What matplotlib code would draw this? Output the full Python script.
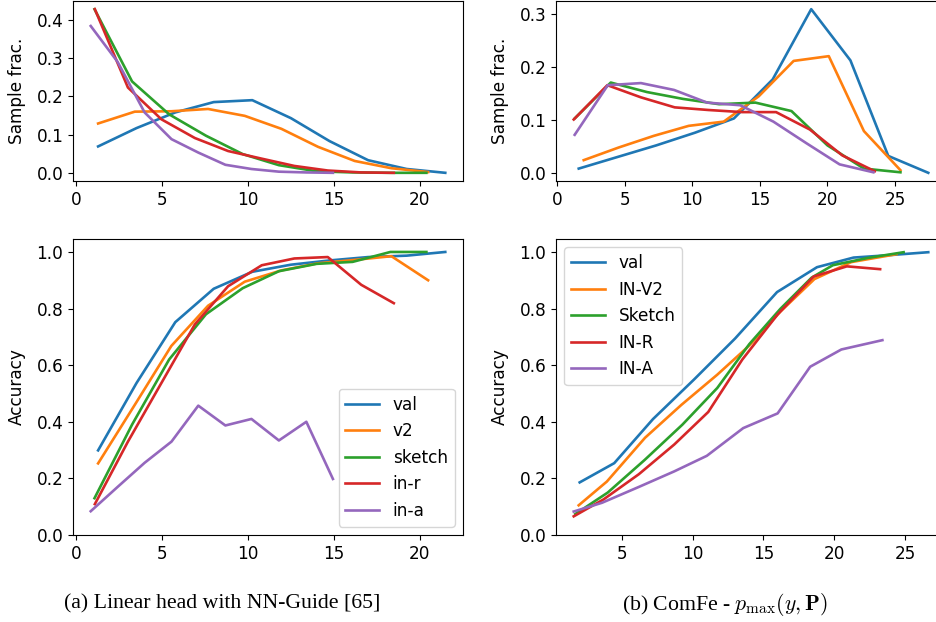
import matplotlib
matplotlib.use("Agg")
import matplotlib.pyplot as plt

# ---------------- data ----------------
# (a) Linear head with NN-Guide
a_val_x = [1.26, 3.5, 5.76, 8.0, 10.25, 12.5, 14.75, 17.0, 19.25, 21.5]
a_val_frac = [0.069, 0.117, 0.158, 0.185, 0.19, 0.143, 0.083, 0.033, 0.01, 0.0]
a_val_acc = [0.299, 0.537, 0.752, 0.870, 0.93, 0.955, 0.97, 0.982, 0.987, 1.0]

a_v2_x = [1.26, 3.4, 5.53, 7.67, 9.81, 11.95, 14.08, 16.22, 18.36, 20.5]
a_v2_frac = [0.129, 0.160, 0.161, 0.167, 0.149, 0.115, 0.068, 0.031, 0.012, 0.002]
a_v2_acc = [0.253, 0.46, 0.668, 0.81, 0.895, 0.935, 0.96, 0.972, 0.985, 0.9]

a_sketch_x = [1.05, 3.24, 5.4, 7.55, 9.69, 11.8, 14.0, 16.1, 18.3, 20.4]
a_sketch_frac = [0.428, 0.239, 0.153, 0.097, 0.049, 0.02, 0.004, 0.001, 0.0, 0.0]
a_sketch_acc = [0.13, 0.39, 0.62, 0.78, 0.872, 0.932, 0.958, 0.965, 1.0, 1.0]

a_inr_x = [1.07, 3.0, 4.95, 6.9, 8.84, 10.8, 12.7, 14.65, 16.6, 18.5]
a_inr_frac = [0.428, 0.223, 0.140, 0.091, 0.057, 0.037, 0.018, 0.006, 0.001, 0.0]
a_inr_acc = [0.109, 0.33, 0.537, 0.744, 0.879, 0.953, 0.977, 0.982, 0.884, 0.819]

a_ina_x = [0.83, 2.4, 3.97, 5.54, 7.1, 8.68, 10.2, 11.8, 13.4, 14.95]
a_ina_frac = [0.384, 0.29, 0.158, 0.088, 0.053, 0.021, 0.01, 0.003, 0.001, 0.0]
a_ina_acc = [0.084, 0.17, 0.255, 0.33, 0.457, 0.387, 0.41, 0.334, 0.40, 0.198]

# (b) ComFe - p_max(y, P)
b_val_fx = [1.6, 4.47, 7.34, 10.2, 13.08, 15.95, 18.8, 21.7, 24.5, 27.46]
b_val_frac = [0.008, 0.03, 0.052, 0.076, 0.103, 0.177, 0.31, 0.213, 0.032, 0.0]
b_v2_fx = [1.97, 4.56, 7.15, 9.74, 12.33, 14.92, 17.5, 20.1, 22.7, 25.4]
b_v2_frac = [0.024, 0.048, 0.07, 0.089, 0.097, 0.145, 0.212, 0.221, 0.079, 0.005]
b_sketch_fx = [1.3, 3.97, 6.65, 9.32, 11.99, 14.67, 17.34, 20.0, 22.7, 25.4]
b_sketch_frac = [0.103, 0.171, 0.153, 0.14, 0.13, 0.133, 0.117, 0.052, 0.008, 0.001]
b_inr_fx = [1.23, 3.72, 6.2, 8.7, 11.2, 13.7, 16.2, 18.7, 21.1, 23.5]
b_inr_frac = [0.101, 0.166, 0.143, 0.124, 0.119, 0.115, 0.115, 0.082, 0.033, 0.003]
b_ina_fx = [1.3, 3.75, 6.2, 8.65, 11.1, 13.55, 16.0, 18.45, 20.9, 23.4]
b_ina_frac = [0.072, 0.166, 0.17, 0.157, 0.133, 0.128, 0.097, 0.056, 0.016, 0.001]

b_val_ax = [2.02, 4.46, 7.2, 10.1, 13.0, 15.96, 18.78, 21.36, 24.0, 26.64]
b_val_acc = [0.186, 0.254, 0.41, 0.55, 0.695, 0.859, 0.947, 0.981, 0.99, 1.0]
b_v2_ax = [1.95, 3.94, 6.64, 9.2, 11.74, 14.0, 16.2, 18.6, 21.2, 24.4]
b_v2_acc = [0.105, 0.189, 0.344, 0.46, 0.567, 0.67, 0.79, 0.905, 0.965, 0.993]
b_sketch_ax = [1.71, 4.0, 6.6, 9.27, 11.74, 14.0, 16.2, 18.4, 19.9, 22.4, 24.9]
b_sketch_acc = [0.074, 0.15, 0.265, 0.39, 0.52, 0.675, 0.80, 0.91, 0.954, 0.98, 1.0]
b_inr_ax = [1.6, 3.71, 6.2, 8.7, 11.1, 13.5, 16.0, 18.54, 20.89, 23.24]
b_inr_acc = [0.066, 0.126, 0.215, 0.32, 0.435, 0.62, 0.78, 0.914, 0.95, 0.94]
b_ina_ax = [1.6, 3.6, 6.2, 8.7, 11.0, 13.57, 16.0, 18.3, 20.5, 23.4]
b_ina_acc = [0.083, 0.114, 0.17, 0.225, 0.28, 0.378, 0.43, 0.595, 0.656, 0.689]

a_labels = ["val", "v2", "sketch", "in-r", "in-a"]
b_labels = ["val", "IN-V2", "Sketch", "IN-R", "IN-A"]
captions = ["(a) Linear head with NN-Guide [65]", r"(b) ComFe - $p_{\max}(y,\mathbf{P})$"]

# ---------------- figure ----------------
W, H = 937, 622
fs = 12.2
plt.rcParams.update({"font.size": fs, "mathtext.fontset": "cm"})
fig = plt.figure(figsize=(W / 100, H / 100), dpi=100)

def axpos(l, t, r, b):
    return [l / W, 1 - b / H, (r - l) / W, (b - t) / H]

ax_tl = fig.add_axes(axpos(73, 1, 463, 181))
ax_tr = fig.add_axes(axpos(556, 1, 946, 181))
ax_bl = fig.add_axes(axpos(73, 239, 463, 535))
ax_br = fig.add_axes(axpos(556, 239, 946, 535))

colors = ["C0", "C1", "C2", "C3", "C4"]
lw = 1.9

a_frac = [(a_val_x, a_val_frac), (a_v2_x, a_v2_frac), (a_sketch_x, a_sketch_frac),
          (a_inr_x, a_inr_frac), (a_ina_x, a_ina_frac)]
a_acc = [(a_val_x, a_val_acc), (a_v2_x, a_v2_acc), (a_sketch_x, a_sketch_acc),
         (a_inr_x, a_inr_acc), (a_ina_x, a_ina_acc)]
b_frac = [(b_val_fx, b_val_frac), (b_v2_fx, b_v2_frac), (b_sketch_fx, b_sketch_frac),
          (b_inr_fx, b_inr_frac), (b_ina_fx, b_ina_frac)]
b_acc = [(b_val_ax, b_val_acc), (b_v2_ax, b_v2_acc), (b_sketch_ax, b_sketch_acc),
         (b_inr_ax, b_inr_acc), (b_ina_ax, b_ina_acc)]

for (x, y), c in zip(a_frac, colors):
    ax_tl.plot(x, y, color=c, lw=lw)
for (x, y), c, lab in zip(a_acc, colors, a_labels):
    ax_bl.plot(x, y, color=c, lw=lw, label=lab)
for (x, y), c in zip(b_frac, colors):
    ax_tr.plot(x, y, color=c, lw=lw)
for (x, y), c, lab in zip(b_acc, colors, b_labels):
    ax_br.plot(x, y, color=c, lw=lw, label=lab)

ax_tl.set_ylabel("Sample frac.")
ax_tr.set_ylabel("Sample frac.")
ax_bl.set_ylabel("Accuracy")
ax_br.set_ylabel("Accuracy")
ax_tl.set_yticks([0.0, 0.1, 0.2, 0.3, 0.4])
ax_tr.set_yticks([0.0, 0.1, 0.2, 0.3])
for ax in (ax_bl, ax_br):
    ax.set_yticks([0.0, 0.2, 0.4, 0.6, 0.8, 1.0])
ax_tl.set_xticks([0, 5, 10, 15, 20])
ax_bl.set_xticks([0, 5, 10, 15, 20])
ax_tr.set_xticks([0, 5, 10, 15, 20, 25])
ax_br.set_xticks([5, 10, 15, 20, 25])

ax_bl.legend(loc="lower right", fontsize=12.2)
ax_br.legend(loc="upper left", fontsize=12.2)

for ax in (ax_tl, ax_tr, ax_bl, ax_br):
    ax.yaxis.set_label_coords(-0.12, 0.5)

fig.text(222 / W, 1 - 604 / H, captions[0], ha="center", va="center",
         family="Liberation Serif", fontsize=15.7)
fig.text(725 / W, 1 - 604 / H, captions[1], ha="center", va="center",
         family="Liberation Serif", fontsize=15.7)

fig.savefig("out.png", dpi=100)
